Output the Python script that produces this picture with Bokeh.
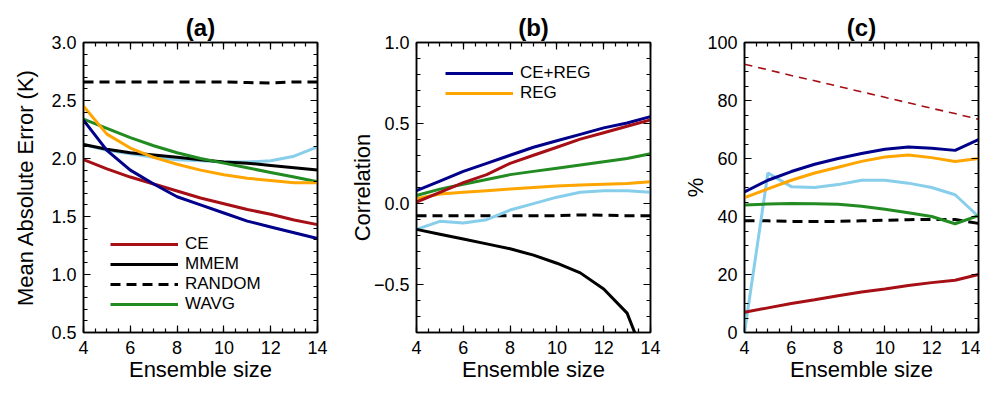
from bokeh.plotting import figure
from bokeh.layouts import row
from bokeh.models import FixedTicker, LinearAxis, Legend, LegendItem, Range1d
from bokeh.embed import file_html
from bokeh.resources import INLINE

FONT = "Liberation Sans"

ens = [4, 5, 6, 7, 8, 9, 10, 11, 12, 13, 14]
x_ticks = [4, 6, 8, 10, 12, 14]

# ---- (a) Mean Absolute Error (K)
a_ce = [1.99, 1.91, 1.84, 1.78, 1.72, 1.66, 1.61, 1.56, 1.52, 1.47, 1.43]
a_mmem = [2.12, 2.08, 2.05, 2.03, 2.01, 1.99, 1.97, 1.96, 1.94, 1.92, 1.90]
a_random = [2.66, 2.66, 2.66, 2.66, 2.66, 2.66, 2.66, 2.655, 2.65, 2.66, 2.66]
a_wavg = [2.34, 2.26, 2.18, 2.11, 2.05, 2.00, 1.96, 1.92, 1.88, 1.84, 1.80]
a_cereg = [2.33, 2.07, 1.90, 1.78, 1.67, 1.60, 1.53, 1.46, 1.41, 1.36, 1.31]
a_reg = [2.45, 2.21, 2.09, 2.01, 1.95, 1.90, 1.86, 1.83, 1.81, 1.79, 1.79]
a_sky = [2.12, 2.07, 2.04, 2.01, 1.99, 1.98, 1.97, 1.97, 1.98, 2.02, 2.10]
a_yticks = [0.5, 1.0, 1.5, 2.0, 2.5, 3.0]
a_ylabels = ["0.5", "1.0", "1.5", "2.0", "2.5", "3.0"]

# ---- (b) Correlation
b_ce = [0.01, 0.07, 0.13, 0.18, 0.25, 0.30, 0.35, 0.40, 0.44, 0.48, 0.52]
b_mmem = [-0.16, -0.19, -0.22, -0.25, -0.28, -0.32, -0.37, -0.43, -0.53, -0.68, -1.05]
b_random = [-0.075, -0.075, -0.075, -0.075, -0.075, -0.075, -0.075, -0.07, -0.072, -0.075, -0.075]
b_wavg = [0.05, 0.09, 0.12, 0.15, 0.18, 0.20, 0.22, 0.24, 0.26, 0.28, 0.31]
b_cereg = [0.08, 0.14, 0.20, 0.25, 0.30, 0.35, 0.39, 0.43, 0.47, 0.50, 0.54]
b_reg = [0.03, 0.06, 0.07, 0.08, 0.09, 0.10, 0.11, 0.115, 0.12, 0.125, 0.135]
b_sky = [-0.16, -0.11, -0.12, -0.10, -0.04, 0.00, 0.04, 0.07, 0.08, 0.08, 0.07]
b_yticks = [-0.5, 0.0, 0.5, 1.0]
b_ylabels = ["\u22120.5", "0.0", "0.5", "1.0"]

# ---- (c) %
c_ce = [7.0, 8.5, 10.0, 11.3, 12.7, 14.0, 15.0, 16.2, 17.2, 18.0, 20.0]
c_ce_dash = [92.5, 90.6, 88.6, 86.8, 84.9, 83.0, 81.1, 79.2, 77.3, 75.5, 73.5]
c_random = [38.5, 38.5, 38.3, 38.3, 38.3, 38.5, 38.7, 38.9, 39.0, 39.0, 37.6]
c_wavg = [44.0, 44.3, 44.5, 44.4, 44.2, 43.5, 42.5, 41.3, 40.0, 37.5, 40.3]
c_cereg = [48.5, 52.5, 55.5, 58.0, 60.0, 61.7, 63.2, 64.0, 63.5, 62.8, 66.5]
c_reg = [46.5, 49.5, 52.5, 55.0, 57.0, 59.0, 60.5, 61.2, 60.3, 59.0, 60.0]
c_sky = [0.0, 55.0, 50.3, 50.0, 51.0, 52.5, 52.5, 51.5, 50.0, 47.5, 40.0]
c_yticks = [0, 20, 40, 60, 80, 100]
c_ylabels = ["0", "20", "40", "60", "80", "100"]

RED = "#a50f15"
NAVY = "#00008b"
ORANGE = "#ffa500"
GREEN = "#228b22"
SKY = "#87ceeb"
BLACK = "#000000"
LW = 3


def style_axis(ax, ticks, minor, labels=None):
    ax.ticker = FixedTicker(ticks=ticks, minor_ticks=minor)
    ax.major_tick_in = 7
    ax.major_tick_out = 0
    ax.minor_tick_in = 4
    ax.minor_tick_out = 0
    ax.axis_line_color = BLACK
    ax.axis_line_width = 1.5
    ax.major_tick_line_width = 1.2
    ax.minor_tick_line_width = 1.2
    ax.major_label_text_font = FONT
    ax.axis_label_text_font = FONT
    ax.axis_label_text_font_style = "normal"
    ax.axis_label_text_font_size = "22px"
    ax.axis_label_text_color = BLACK
    ax.major_label_text_color = BLACK
    ax.major_label_text_font_size = "18px"
    ax.major_label_standoff = 8
    ax.axis_label_standoff = 0
    if labels is not None:
        ax.major_label_overrides = {t: s for t, s in zip(ticks, labels)}


def bare_axis(ax, ticks, minor):
    style_axis(ax, ticks, minor, labels=["" for _ in ticks])
    ax.major_label_standoff = 0


def make_fig(title, ylabel, yr, yticks, yminor, ylabels, bl, br, ystand):
    p = figure(frame_width=234, frame_height=290,
               x_range=Range1d(4, 14), y_range=Range1d(*yr),
               output_backend="svg", toolbar_location=None,
               min_border_left=bl, min_border_right=br,
               min_border_top=42, min_border_bottom=50,
               background_fill_color="white", border_fill_color="white")
    p.title.text = title
    p.title.align = "center"
    p.title.text_font = FONT
    p.title.text_font_size = "24px"
    p.title.text_font_style = "bold"
    p.title.text_color = BLACK
    p.title.standoff = 4
    p.xgrid.visible = False
    p.ygrid.visible = False
    p.outline_line_color = BLACK
    p.outline_line_width = 1.5
    xminor = [4 + 0.5 * i for i in range(21)]
    style_axis(p.xaxis[0], x_ticks, xminor)
    p.xaxis[0].axis_label = "Ensemble size"
    style_axis(p.yaxis[0], yticks, yminor, labels=ylabels)
    p.yaxis[0].axis_label = ylabel
    p.yaxis[0].major_label_standoff = 7
    p.yaxis[0].axis_label_standoff = ystand
    top = LinearAxis()
    bare_axis(top, x_ticks, xminor)
    p.add_layout(top, "above")
    right = LinearAxis()
    bare_axis(right, yticks, yminor)
    p.add_layout(right, "right")
    return p


def frange(start, stop, step):
    n = int(round((stop - start) / step))
    return [round(start + i * step, 4) for i in range(n + 1)]


def make_legend(items, loc):
    return Legend(items=items, location=loc, glyph_width=68, glyph_height=18,
                  label_height=18, label_standoff=7, spacing=-1, padding=0,
                  margin=0, border_line_alpha=0, background_fill_alpha=0,
                  label_text_font=FONT, label_text_font_size="17px",
                  label_text_color=BLACK)


# ---------------- (a)
pa = make_fig("(a)", "Mean Absolute Error (K)", (0.5, 3.0),
              a_yticks, frange(0.5, 3.0, 0.1), a_ylabels, 83, 14, 10)
ra_random = pa.line(ens, a_random, line_color=BLACK, line_width=LW, line_dash="10 6")
ra_sky = pa.line(ens, a_sky, line_color=SKY, line_width=LW)
ra_mmem = pa.line(ens, a_mmem, line_color=BLACK, line_width=LW)
ra_wavg = pa.line(ens, a_wavg, line_color=GREEN, line_width=LW)
ra_reg = pa.line(ens, a_reg, line_color=ORANGE, line_width=LW)
ra_ce = pa.line(ens, a_ce, line_color=RED, line_width=LW)
ra_cereg = pa.line(ens, a_cereg, line_color=NAVY, line_width=LW)

pa.add_layout(make_legend([LegendItem(label="CE", renderers=[ra_ce]),
                           LegendItem(label="MMEM", renderers=[ra_mmem]),
                           LegendItem(label="RANDOM", renderers=[ra_random]),
                           LegendItem(label="WAVG", renderers=[ra_wavg])],
                          (27, 18)))

# ---------------- (b)
pb = make_fig("(b)", "Correlation", (-0.8, 1.0),
              b_yticks, frange(-0.8, 1.0, 0.1), b_ylabels, 85, 11, -4)
rb_random = pb.line(ens, b_random, line_color=BLACK, line_width=LW, line_dash="10 6")
rb_sky = pb.line(ens, b_sky, line_color=SKY, line_width=LW)
rb_mmem = pb.line(ens, b_mmem, line_color=BLACK, line_width=LW)
rb_reg = pb.line(ens, b_reg, line_color=ORANGE, line_width=LW)
rb_wavg = pb.line(ens, b_wavg, line_color=GREEN, line_width=LW)
rb_cereg = pb.line(ens, b_cereg, line_color=NAVY, line_width=LW)
rb_ce = pb.line(ens, b_ce, line_color=RED, line_width=LW)

pb.add_layout(make_legend([LegendItem(label="CE+REG", renderers=[rb_cereg]),
                           LegendItem(label="REG", renderers=[rb_reg])],
                          (29, 229)))

# ---------------- (c)
pc = make_fig("(c)", "%", (0, 100),
              c_yticks, list(range(0, 101, 5)), c_ylabels, 83, 2, -4)
pc.line(ens, c_ce_dash, line_color=RED, line_width=1.6, line_dash="8 6")
pc.line(ens, c_random, line_color=BLACK, line_width=LW, line_dash="10 6")
pc.line(ens, c_sky, line_color=SKY, line_width=LW)
pc.line(ens, c_wavg, line_color=GREEN, line_width=LW)
pc.line(ens, c_reg, line_color=ORANGE, line_width=LW)
pc.line(ens, c_cereg, line_color=NAVY, line_width=LW)
pc.line(ens, c_ce, line_color=RED, line_width=LW)

layout = row(pa, pb, pc, spacing=0)

open("out.html", "w").write(file_html(layout, INLINE))
